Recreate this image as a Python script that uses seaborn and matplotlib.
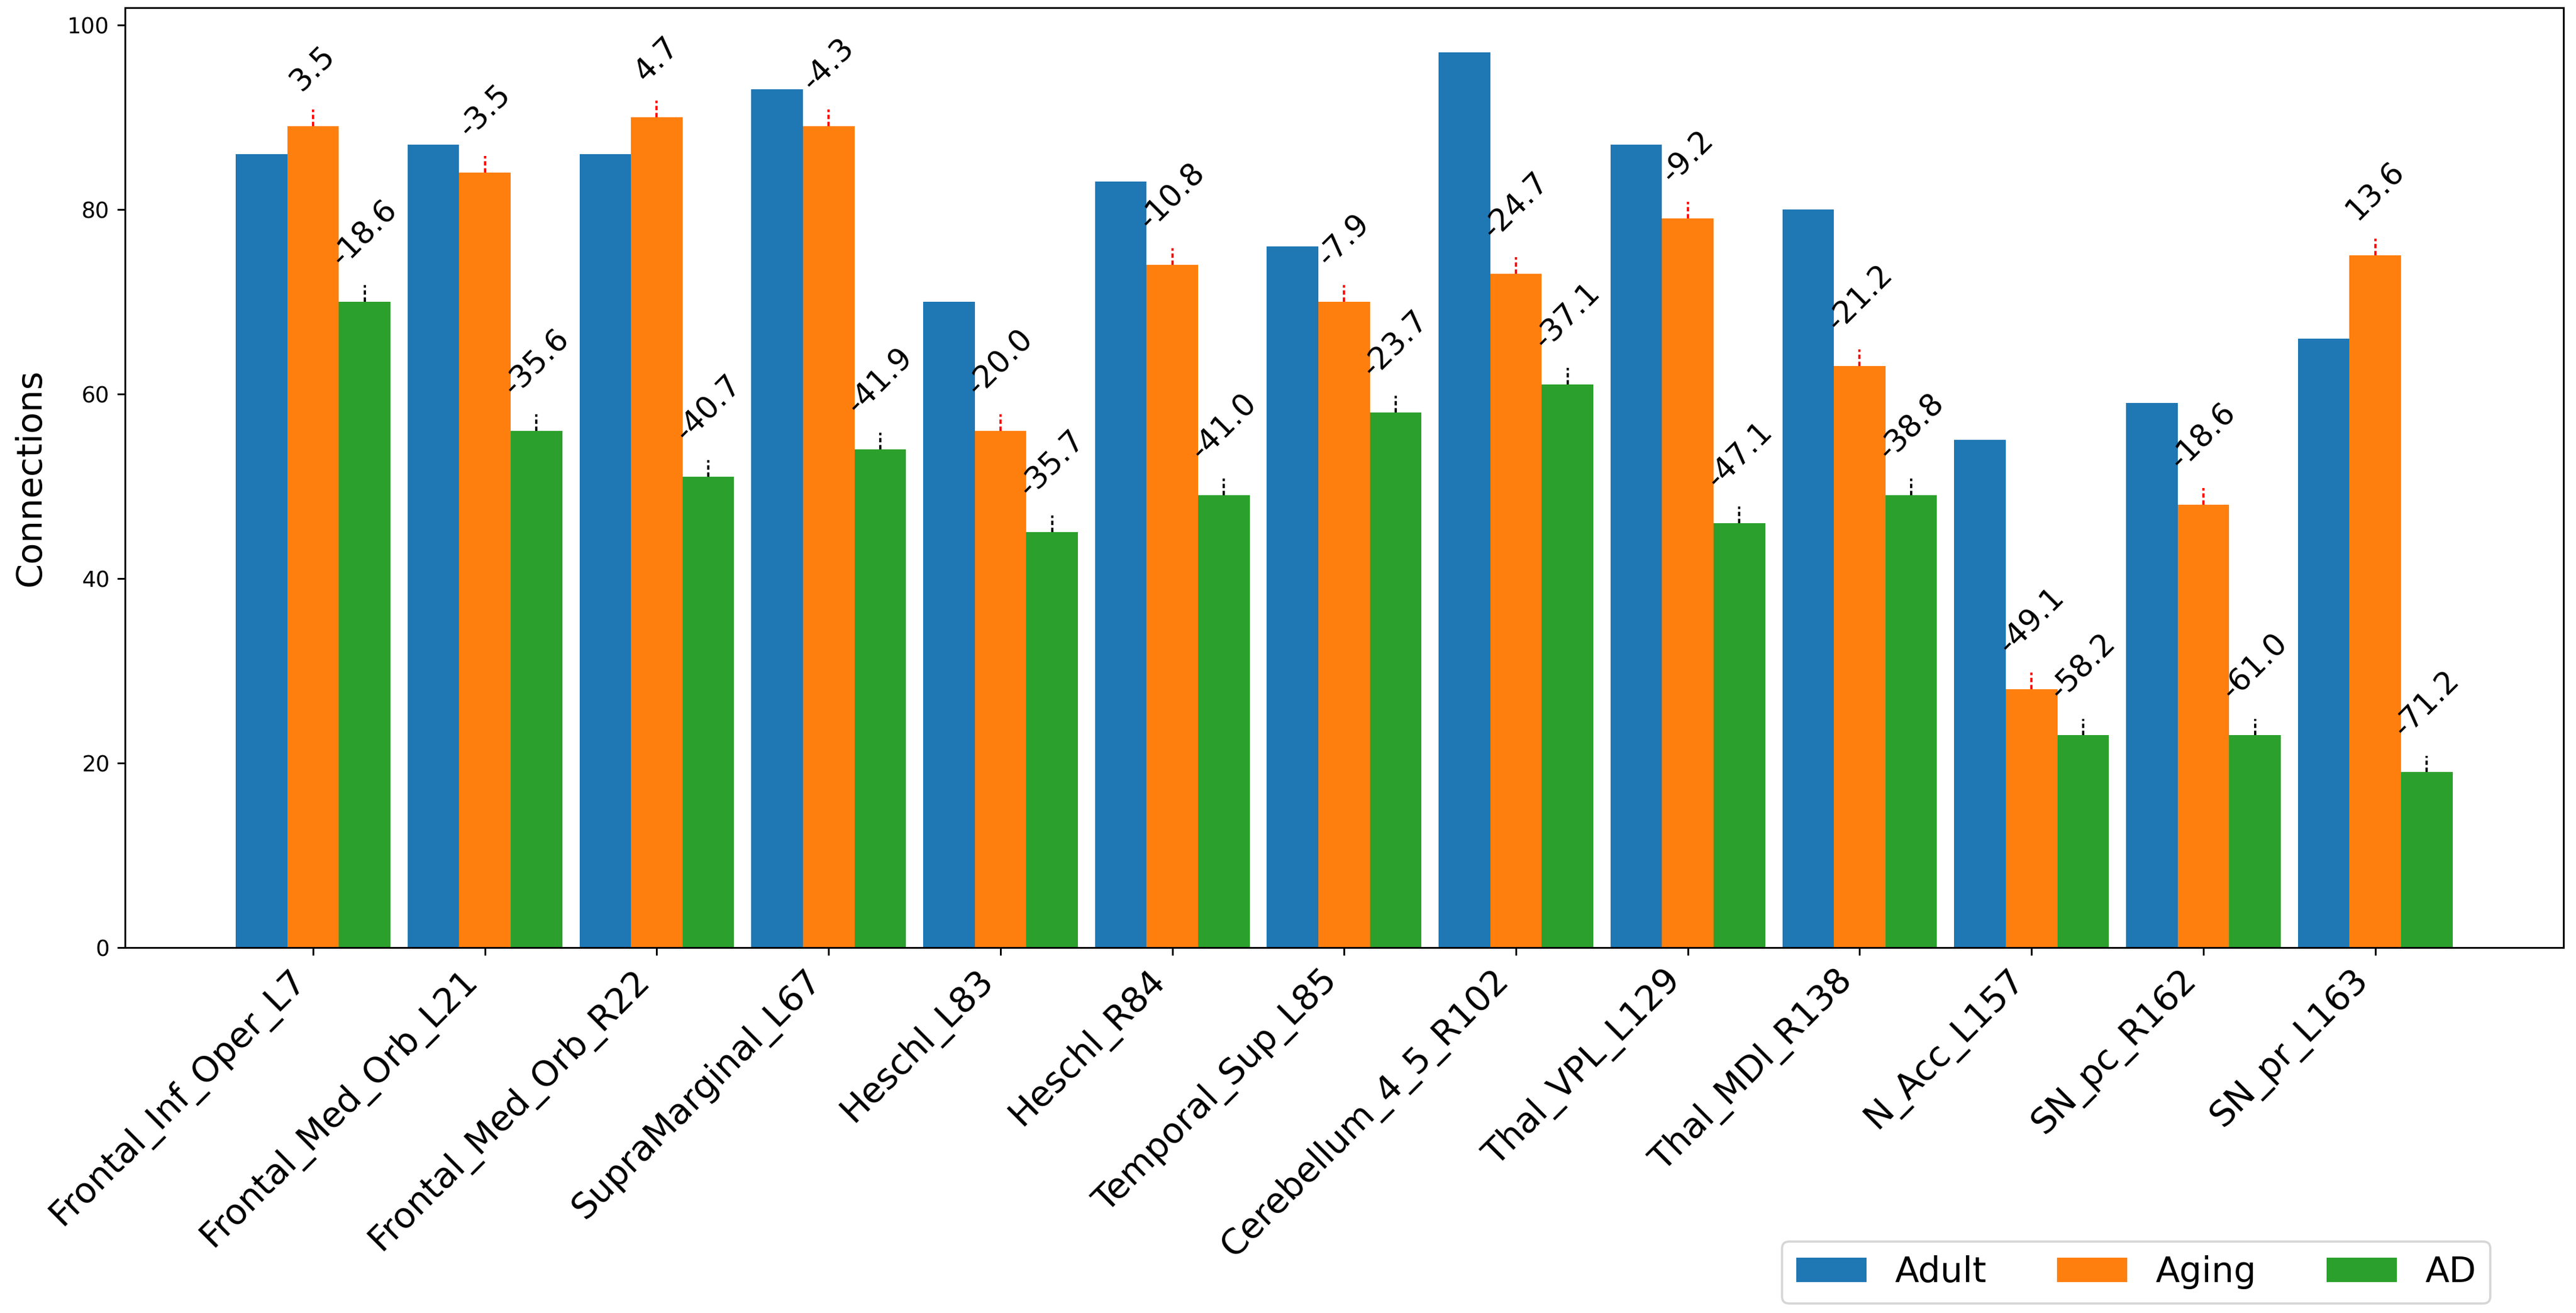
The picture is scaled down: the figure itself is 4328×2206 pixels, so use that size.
import numpy as np
import pandas as pd
import matplotlib
matplotlib.use("Agg")
import matplotlib.pyplot as plt
import seaborn as sns

# -----------------------------
# DATA
# -----------------------------
regions = ["Frontal_Inf_Oper_L7", "Frontal_Med_Orb_L21", "Frontal_Med_Orb_R22",
           "SupraMarginal_L67", "Heschl_L83", "Heschl_R84", "Temporal_Sup_L85",
           "Cerebellum_4_5_R102", "Thal_VPL_L129", "Thal_MDl_R138", "N_Acc_L157",
           "SN_pc_R162", "SN_pr_L163"]
groups = ["Adult", "Aging", "AD"]

adult = [86, 87, 86, 93, 70, 83, 76, 97, 87, 80, 55, 59, 66]
aging = [89, 84, 90, 89, 56, 74, 70, 73, 79, 63, 28, 48, 75]
ad = [70, 56, 51, 54, 45, 49, 58, 61, 46, 49, 23, 23, 19]

aging_err = [1.8] * 13
ad_err = [1.8] * 13

# percent change vs Adult, as printed on the chart
aging_pct = ["3.5", "-3.5", "4.7", "-4.3", "-20.0", "-10.8", "-7.9",
             "-24.7", "-9.2", "-21.2", "-49.1", "-18.6", "13.6"]
ad_pct = ["-18.6", "-35.6", "-40.7", "-41.9", "-35.7", "-41.0", "-23.7",
          "-37.1", "-47.1", "-38.8", "-58.2", "-61.0", "-71.2"]

colors = ["#1f77b4", "#ff7f0e", "#2ca02c"]

df = pd.DataFrame({
    "region": regions * 3,
    "group": [g for g in groups for _ in regions],
    "value": adult + aging + ad,
})

# -----------------------------
# PLOT
# -----------------------------
DPI = 266
fig = plt.figure(figsize=(4328 / DPI, 2206 / DPI), dpi=DPI)
ax = fig.add_axes([0.0485, 0.2783, 0.9466, 0.7158])

sns.barplot(data=df, x="region", y="value", hue="group", hue_order=groups,
            order=regions, palette=colors, width=0.9, errorbar=None,
            saturation=1, ax=ax)

# back to plain matplotlib autoscaling on x (seaborn clamps to +-0.5)
ax.relim()
ax.set_xmargin(0.05)
ax.autoscale(enable=True, axis="x")

bars = ax.containers
extra = [(bars[1], aging_err, aging_pct, "red"),
         (bars[2], ad_err, ad_pct, "black")]
for cont, err, labels, ecol in extra:
    xs = [p.get_x() + p.get_width() / 2 for p in cont.patches]
    hs = [p.get_height() for p in cont.patches]
    eb = ax.errorbar(xs, hs, yerr=[np.zeros(len(err)), err], fmt="none",
                     ecolor=ecol, elinewidth=1, capsize=0)
    eb[2][0].set_linestyle((0, (2, 1.2)))
    for x, h, e, lab in zip(xs, hs, err, labels):
        ax.text(x, h + e + 1.4, lab, rotation=45, ha="center", va="bottom",
                fontsize=14)

ax.set_xlabel("")
ax.set_ylabel("Connections", fontsize=16, labelpad=9)
plt.setp(ax.get_xticklabels(), rotation=45, ha="right", fontsize=16)

ax.get_legend().remove()
handles = bars[:3]
ax.legend(handles, groups, loc="lower right", ncol=3, fontsize=16,
          bbox_to_anchor=(4184 / 4328, 16 / 2206),
          bbox_transform=fig.transFigure, borderaxespad=0)

fig.savefig("out.png", dpi=DPI)
